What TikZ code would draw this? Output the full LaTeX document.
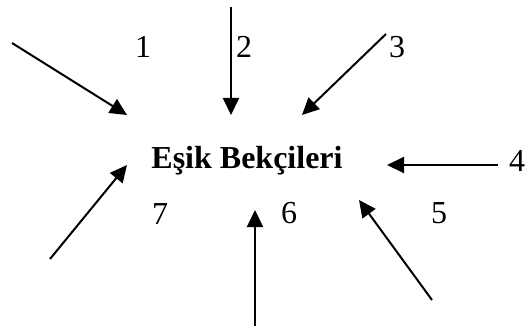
\documentclass[tikz,border=0pt]{standalone}
\usepackage{fontspec}
\setmainfont{Liberation Serif}
\usetikzlibrary{arrows.meta}

\begin{document}
\begin{tikzpicture}[
    x=0.5pt, y=-0.5pt,
    >={Triangle[length=8.5pt, width=8pt]},
    every node/.style={font=\fontsize{16}{19}\selectfont, inner sep=0pt},
    title/.style={font=\fontsize{16}{19}\selectfont\bfseries, anchor=base},
    num/.style={anchor=base},
    inarrow/.style={->, line width=1pt, black},
]
\useasboundingbox (0,0) rectangle (529,331);

% ---- Centre ----
\node[title] (gate) at (247,169) {Eşik Bekçileri};

% ---- Numbers ----
\node[num] (n1) at (143,58) {1};
\node[num] (n2) at (244,58) {2};
\node[num] (n3) at (397,58) {3};
\node[num] (n4) at (517,172) {4};
\node[num] (n5) at (439,223) {5};
\node[num] (n6) at (289,223) {6};
\node[num] (n7) at (160,224) {7};

% ---- Arrow ends ----
\coordinate (s1) at (12,43);   \coordinate (t1) at (127,115);
\coordinate (s2) at (231,7);   \coordinate (t2) at (231,115);
\coordinate (s3) at (386,34);  \coordinate (t3) at (302,115);
\coordinate (s4) at (498,165); \coordinate (t4) at (387,165);
\coordinate (s5) at (432,300); \coordinate (t5) at (359,200);
\coordinate (s6) at (255,326); \coordinate (t6) at (255,210);
\coordinate (s7) at (50,259);  \coordinate (t7) at (127,165);

% ---- Arrows into the centre ----
\draw[inarrow] (s1) -- (t1);
\draw[inarrow] (s2) -- (t2);
\draw[inarrow] (s3) -- (t3);
\draw[inarrow] (s4) -- (t4);
\draw[inarrow] (s5) -- (t5);
\draw[inarrow] (s6) -- (t6);
\draw[inarrow] (s7) -- (t7);

\end{tikzpicture}
\end{document}
